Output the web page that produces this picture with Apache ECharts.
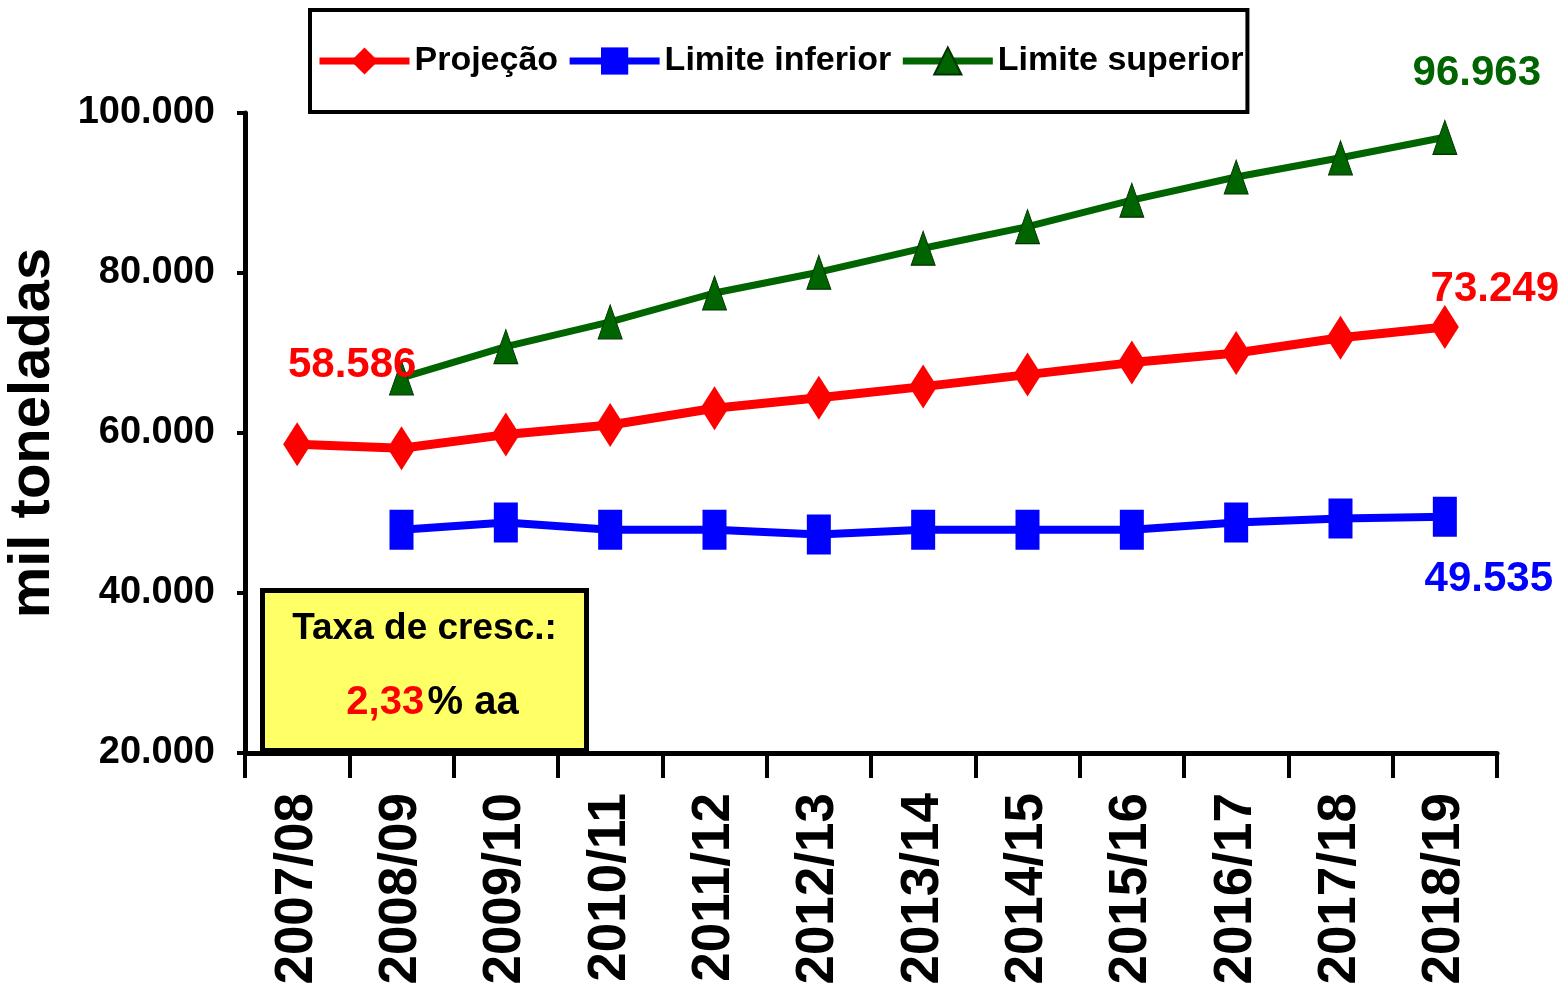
<!DOCTYPE html>
<html>
<head>
<meta charset="utf-8">
<script src="https://cdn.jsdelivr.net/npm/echarts@6/dist/echarts.min.js"></script>
<style>
  html, body { margin: 0; padding: 0; background: #fff; }
  #main { width: 1568px; height: 994px; }
</style>
</head>
<body>
<div id="main"></div>
<script>
// safras, em mil toneladas
const safras = ['2007/08', '2008/09', '2009/10', '2010/11', '2011/12', '2012/13',
  '2013/14', '2014/15', '2015/16', '2016/17', '2017/18', '2018/19'];
const projecao = [58586, 58100, 59800, 61000, 63100, 64400, 65800, 67300, 68800, 70000, 71900, 73249];
const limiteInferior = [null, 47900, 48800, 47900, 47900, 47300, 47900, 47900, 47900, 48800, 49300, 49535];
const limiteSuperior = [null, 66900, 70800, 73900, 77500, 80100, 83100, 85800, 89100, 92000, 94400, 96963];
const yTicks = [20000, 40000, 60000, 80000, 100000];

const fonte = "'Liberation Sans', Arial, sans-serif";

function fmt(v) {
  return String(v).replace(/\B(?=(\d{3})+(?!\d))/g, '.');
}

// coloca rotulo so nos pontos indicados
function comRotulos(valores, rotulos) {
  return valores.map(function (v, i) {
    if (rotulos[i]) {
      return { value: v, label: Object.assign({ show: true, formatter: fmt(v) }, rotulos[i]) };
    }
    return v;
  });
}

let myChart = echarts.init(document.getElementById('main'));

let option = {
  backgroundColor: '#fff',
  animation: false,
  legend: {
    left: 310,
    top: 10,
    padding: [34, 4, 34, 6],
    borderColor: '#000',
    borderWidth: 4,
    itemWidth: 90,
    itemHeight: 34,
    itemGap: 8,
    lineStyle: { width: 7 },
    textStyle: { fontFamily: fonte, fontWeight: 'bold', fontSize: 34, color: '#000' },
    data: ['Projeção', 'Limite inferior', 'Limite superior']
  },
  grid: { left: 245, right: 71, top: 113, bottom: 241, outerBoundsMode: 'none' },
  xAxis: {
    type: 'category',
    data: safras,
    boundaryGap: true,
    axisLine: { lineStyle: { color: '#000', width: 5 } },
    axisTick: { show: true, length: 25, lineStyle: { color: '#000', width: 4 } },
    axisLabel: {
      rotate: 90,
      margin: 40,
      interval: 0,
      fontFamily: fonte,
      fontWeight: 'bold',
      fontSize: 53,
      color: '#000'
    }
  },
  yAxis: {
    type: 'value',
    min: yTicks[0],
    max: yTicks[yTicks.length - 1],
    interval: 20000,
    name: 'mil toneladas',
    nameLocation: 'middle',
    nameGap: 183,
    nameTextStyle: { fontFamily: fonte, fontWeight: 'bold', fontSize: 58, color: '#000' },
    axisLine: { show: true, lineStyle: { color: '#000', width: 5 } },
    axisTick: { show: true, length: 8, lineStyle: { color: '#000', width: 4 } },
    splitLine: { show: false },
    axisLabel: {
      margin: 30,
      fontFamily: fonte,
      fontWeight: 'bold',
      fontSize: 38,
      color: '#000',
      formatter: fmt
    }
  },
  graphic: [{
    type: 'group',
    left: 260,
    top: 588,
    z: 100,
    children: [{
      type: 'rect',
      shape: { x: 0, y: 0, width: 324, height: 160 },
      style: { fill: '#FFFF66', stroke: '#000', lineWidth: 5 }
    }, {
      type: 'text',
      x: 162,
      y: 38,
      style: {
        text: 'Taxa de cresc.:',
        align: 'center',
        verticalAlign: 'middle',
        font: 'bold 37px ' + fonte,
        fill: '#000'
      }
    }, {
      type: 'text',
      x: 170,
      y: 112,
      style: {
        text: '{r|2,33} {k|% aa}',
        align: 'center',
        verticalAlign: 'middle',
        rich: {
          r: { fontFamily: fonte, fontWeight: 'bold', fontSize: 40, fill: '#FF0000', color: '#FF0000' },
          k: { fontFamily: fonte, fontWeight: 'bold', fontSize: 40, fill: '#000', color: '#000' }
        }
      }
    }]
  }],
  series: [{
    name: 'Projeção',
    type: 'line',
    symbol: 'diamond',
    symbolSize: [28, 44],
    color: '#FF0000',
    lineStyle: { width: 9, color: '#FF0000' },
    itemStyle: { color: '#FF0000' },
    label: { fontFamily: fonte, fontWeight: 'bold', fontSize: 42, color: '#FF0000' },
    data: comRotulos(projecao, {
      0: { position: 'top', offset: [55, -31] },
      11: { position: 'top', offset: [50, 10] }
    }),
    z: 3
  }, {
    name: 'Limite inferior',
    type: 'line',
    symbol: 'rect',
    symbolSize: [24, 40],
    color: '#0000FF',
    lineStyle: { width: 8, color: '#0000FF' },
    itemStyle: { color: '#0000FF' },
    label: { fontFamily: fonte, fontWeight: 'bold', fontSize: 42, color: '#0000FF' },
    data: comRotulos(limiteInferior, {
      11: { position: 'bottom', offset: [44, 17] }
    }),
    z: 2
  }, {
    name: 'Limite superior',
    type: 'line',
    symbol: 'triangle',
    symbolSize: [24, 34],
    color: '#006400',
    lineStyle: { width: 7, color: '#006400' },
    itemStyle: { color: '#006400', borderColor: '#003300', borderWidth: 1 },
    label: { fontFamily: fonte, fontWeight: 'bold', fontSize: 42, color: '#006400' },
    data: comRotulos(limiteSuperior, {
      11: { position: 'top', offset: [32, -20] }
    }),
    z: 2
  }]
};

myChart.setOption(option);
</script>
</body>
</html>
